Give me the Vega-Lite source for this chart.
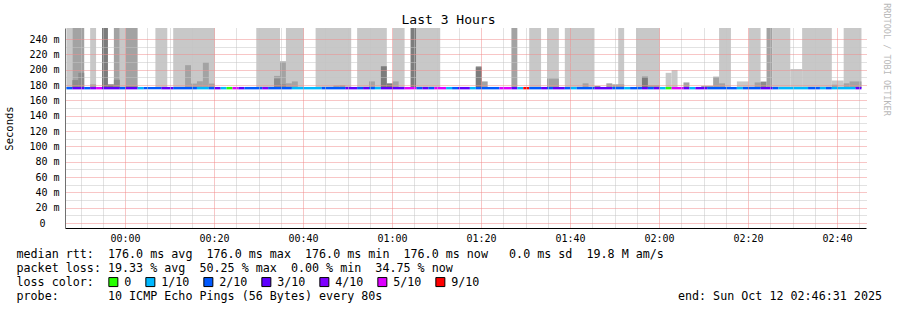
{
  "$schema": "https://vega.github.io/schema/vega-lite/v6.json",
  "width": 801,
  "height": 200,
  "autosize": {"type": "none"},
  "padding": {"left": 65, "top": 28, "right": 31, "bottom": 82},
  "background": "white",
  "config": {"view": {"stroke": null}, "font": "DejaVu Sans Mono"},
  "datasets": {
    "smoke": [
      {"start": "2025-10-11T23:46:50", "end": "2025-10-11T23:48:10", "low": 176, "high": 260, "shade": "light"},
      {"start": "2025-10-11T23:48:10", "end": "2025-10-11T23:50:50", "low": 176, "high": 260, "shade": "mid"},
      {"start": "2025-10-11T23:52:10", "end": "2025-10-11T23:53:30", "low": 176, "high": 260, "shade": "light"},
      {"start": "2025-10-11T23:54:50", "end": "2025-10-11T23:56:10", "low": 176, "high": 260, "shade": "darkest"},
      {"start": "2025-10-11T23:57:30", "end": "2025-10-11T23:58:50", "low": 176, "high": 260, "shade": "mid"},
      {"start": "2025-10-11T23:58:50", "end": "2025-10-12T00:00:10", "low": 176, "high": 260, "shade": "light"},
      {"start": "2025-10-12T00:00:10", "end": "2025-10-12T00:02:50", "low": 176, "high": 260, "shade": "mid"},
      {"start": "2025-10-12T00:06:50", "end": "2025-10-12T00:09:30", "low": 176, "high": 260, "shade": "light"},
      {"start": "2025-10-12T00:10:50", "end": "2025-10-12T00:20:10", "low": 176, "high": 260, "shade": "light"},
      {"start": "2025-10-12T00:29:30", "end": "2025-10-12T00:34:50", "low": 176, "high": 260, "shade": "light"},
      {"start": "2025-10-12T00:36:10", "end": "2025-10-12T00:40:10", "low": 176, "high": 260, "shade": "light"},
      {"start": "2025-10-12T00:42:50", "end": "2025-10-12T00:50:50", "low": 176, "high": 260, "shade": "light"},
      {"start": "2025-10-12T00:52:10", "end": "2025-10-12T00:58:50", "low": 176, "high": 260, "shade": "light"},
      {"start": "2025-10-12T01:00:10", "end": "2025-10-12T01:02:50", "low": 176, "high": 260, "shade": "light"},
      {"start": "2025-10-12T01:04:10", "end": "2025-10-12T01:05:30", "low": 176, "high": 260, "shade": "darkest"},
      {"start": "2025-10-12T01:05:30", "end": "2025-10-12T01:10:50", "low": 176, "high": 260, "shade": "light"},
      {"start": "2025-10-12T01:26:50", "end": "2025-10-12T01:28:10", "low": 176, "high": 260, "shade": "mid"},
      {"start": "2025-10-12T01:30:50", "end": "2025-10-12T01:33:30", "low": 176, "high": 260, "shade": "light"},
      {"start": "2025-10-12T01:34:50", "end": "2025-10-12T01:37:30", "low": 176, "high": 260, "shade": "light"},
      {"start": "2025-10-12T01:38:50", "end": "2025-10-12T01:45:30", "low": 176, "high": 260, "shade": "light"},
      {"start": "2025-10-12T01:50:50", "end": "2025-10-12T01:52:10", "low": 176, "high": 260, "shade": "light"},
      {"start": "2025-10-12T01:54:50", "end": "2025-10-12T02:00:10", "low": 176, "high": 260, "shade": "light"},
      {"start": "2025-10-12T02:13:30", "end": "2025-10-12T02:16:10", "low": 176, "high": 260, "shade": "light"},
      {"start": "2025-10-12T02:20:10", "end": "2025-10-12T02:22:50", "low": 176, "high": 260, "shade": "light"},
      {"start": "2025-10-12T02:24:10", "end": "2025-10-12T02:25:30", "low": 176, "high": 260, "shade": "mid"},
      {"start": "2025-10-12T02:25:30", "end": "2025-10-12T02:29:30", "low": 176, "high": 260, "shade": "light"},
      {"start": "2025-10-12T02:32:10", "end": "2025-10-12T02:38:50", "low": 176, "high": 260, "shade": "light"},
      {"start": "2025-10-12T02:41:30", "end": "2025-10-12T02:45:30", "low": 176, "high": 260, "shade": "light"},
      {"start": "2025-10-11T23:48:10", "end": "2025-10-11T23:49:30", "low": 176, "high": 186.5, "shade": "dark"},
      {"start": "2025-10-11T23:49:30", "end": "2025-10-11T23:50:50", "low": 176, "high": 196, "shade": "dark"},
      {"start": "2025-10-11T23:52:10", "end": "2025-10-11T23:53:30", "low": 176, "high": 181, "shade": "mid"},
      {"start": "2025-10-11T23:56:10", "end": "2025-10-11T23:57:30", "low": 176, "high": 181, "shade": "darkest"},
      {"start": "2025-10-11T23:57:30", "end": "2025-10-11T23:58:50", "low": 176, "high": 187, "shade": "dark"},
      {"start": "2025-10-12T00:00:10", "end": "2025-10-12T00:02:50", "low": 176, "high": 178.5, "shade": "dark"},
      {"start": "2025-10-12T00:13:30", "end": "2025-10-12T00:14:50", "low": 176, "high": 206, "shade": "mid"},
      {"start": "2025-10-12T00:14:50", "end": "2025-10-12T00:16:10", "low": 176, "high": 182, "shade": "mid"},
      {"start": "2025-10-12T00:16:10", "end": "2025-10-12T00:17:30", "low": 176, "high": 185, "shade": "mid"},
      {"start": "2025-10-12T00:17:30", "end": "2025-10-12T00:18:50", "low": 176, "high": 209.5, "shade": "mid"},
      {"start": "2025-10-12T00:18:50", "end": "2025-10-12T00:20:10", "low": 176, "high": 182, "shade": "mid"},
      {"start": "2025-10-12T00:33:30", "end": "2025-10-12T00:34:50", "low": 176, "high": 192, "shade": "mid"},
      {"start": "2025-10-12T00:33:30", "end": "2025-10-12T00:34:50", "low": 176, "high": 188.5, "shade": "dark"},
      {"start": "2025-10-12T00:34:50", "end": "2025-10-12T00:36:10", "low": 176, "high": 211, "shade": "mid"},
      {"start": "2025-10-12T00:34:50", "end": "2025-10-12T00:36:10", "low": 176, "high": 181, "shade": "dark"},
      {"start": "2025-10-12T00:36:10", "end": "2025-10-12T00:37:30", "low": 176, "high": 182.3, "shade": "mid"},
      {"start": "2025-10-12T00:37:30", "end": "2025-10-12T00:38:50", "low": 176, "high": 184.8, "shade": "mid"},
      {"start": "2025-10-12T00:46:50", "end": "2025-10-12T00:48:10", "low": 176, "high": 179.5, "shade": "mid"},
      {"start": "2025-10-12T00:48:10", "end": "2025-10-12T00:49:30", "low": 176, "high": 180, "shade": "mid"},
      {"start": "2025-10-12T00:54:50", "end": "2025-10-12T00:56:10", "low": 176, "high": 184.8, "shade": "mid"},
      {"start": "2025-10-12T00:57:30", "end": "2025-10-12T00:58:50", "low": 176, "high": 204.6, "shade": "darkest"},
      {"start": "2025-10-12T00:58:50", "end": "2025-10-12T01:00:10", "low": 176, "high": 182.3, "shade": "darkest"},
      {"start": "2025-10-12T01:00:10", "end": "2025-10-12T01:01:30", "low": 176, "high": 184.8, "shade": "mid"},
      {"start": "2025-10-12T01:18:50", "end": "2025-10-12T01:20:10", "low": 176, "high": 204.6, "shade": "mid"},
      {"start": "2025-10-12T01:18:50", "end": "2025-10-12T01:20:10", "low": 176, "high": 203.3, "shade": "darkest"},
      {"start": "2025-10-12T01:20:10", "end": "2025-10-12T01:21:30", "low": 176, "high": 184.8, "shade": "mid"},
      {"start": "2025-10-12T01:34:50", "end": "2025-10-12T01:37:30", "low": 176, "high": 188.5, "shade": "mid"},
      {"start": "2025-10-12T01:42:50", "end": "2025-10-12T01:44:10", "low": 176, "high": 182.3, "shade": "mid"},
      {"start": "2025-10-12T01:45:30", "end": "2025-10-12T01:46:50", "low": 176, "high": 178.6, "shade": "darkest"},
      {"start": "2025-10-12T01:48:10", "end": "2025-10-12T01:49:30", "low": 176, "high": 182.3, "shade": "mid"},
      {"start": "2025-10-12T01:49:30", "end": "2025-10-12T01:52:10", "low": 176, "high": 181, "shade": "mid"},
      {"start": "2025-10-12T01:56:10", "end": "2025-10-12T01:57:30", "low": 176, "high": 191, "shade": "darkest"},
      {"start": "2025-10-12T01:57:30", "end": "2025-10-12T02:00:10", "low": 176, "high": 180, "shade": "mid"},
      {"start": "2025-10-12T02:01:30", "end": "2025-10-12T02:02:50", "low": 176, "high": 196, "shade": "light"},
      {"start": "2025-10-12T02:02:50", "end": "2025-10-12T02:04:10", "low": 176, "high": 199.6, "shade": "light"},
      {"start": "2025-10-12T02:05:30", "end": "2025-10-12T02:06:50", "low": 176, "high": 183.5, "shade": "mid"},
      {"start": "2025-10-12T02:09:30", "end": "2025-10-12T02:12:10", "low": 176, "high": 179, "shade": "mid"},
      {"start": "2025-10-12T02:12:10", "end": "2025-10-12T02:13:30", "low": 176, "high": 191, "shade": "mid"},
      {"start": "2025-10-12T02:13:30", "end": "2025-10-12T02:14:50", "low": 176, "high": 182.3, "shade": "mid"},
      {"start": "2025-10-12T02:17:30", "end": "2025-10-12T02:20:10", "low": 176, "high": 184.8, "shade": "light"},
      {"start": "2025-10-12T02:21:30", "end": "2025-10-12T02:22:50", "low": 176, "high": 183.5, "shade": "mid"},
      {"start": "2025-10-12T02:22:50", "end": "2025-10-12T02:24:10", "low": 176, "high": 184.6, "shade": "dark"},
      {"start": "2025-10-12T02:29:30", "end": "2025-10-12T02:32:10", "low": 176, "high": 201, "shade": "light"},
      {"start": "2025-10-12T02:38:50", "end": "2025-10-12T02:41:30", "low": 176, "high": 186, "shade": "light"},
      {"start": "2025-10-12T02:38:50", "end": "2025-10-12T02:40:10", "low": 176, "high": 180.5, "shade": "mid"},
      {"start": "2025-10-12T02:41:30", "end": "2025-10-12T02:42:50", "low": 176, "high": 182.3, "shade": "mid"},
      {"start": "2025-10-12T02:42:50", "end": "2025-10-12T02:45:30", "low": 176, "high": 184.8, "shade": "mid"}
    ],
    "median": [
      {"start": "2025-10-11T23:46:50", "end": "2025-10-11T23:48:10", "rtt": 176, "loss": "2/10"},
      {"start": "2025-10-11T23:48:10", "end": "2025-10-11T23:50:50", "rtt": 176, "loss": "3/10"},
      {"start": "2025-10-11T23:50:50", "end": "2025-10-11T23:52:10", "rtt": 176, "loss": "2/10"},
      {"start": "2025-10-11T23:52:10", "end": "2025-10-11T23:53:30", "rtt": 176, "loss": "4/10"},
      {"start": "2025-10-11T23:53:30", "end": "2025-10-11T23:54:50", "rtt": 176, "loss": "5/10"},
      {"start": "2025-10-11T23:54:50", "end": "2025-10-11T23:58:50", "rtt": 176, "loss": "3/10"},
      {"start": "2025-10-11T23:58:50", "end": "2025-10-12T00:00:10", "rtt": 176, "loss": "2/10"},
      {"start": "2025-10-12T00:00:10", "end": "2025-10-12T00:02:50", "rtt": 176, "loss": "3/10"},
      {"start": "2025-10-12T00:02:50", "end": "2025-10-12T00:04:10", "rtt": 176, "loss": "1/10"},
      {"start": "2025-10-12T00:04:10", "end": "2025-10-12T00:08:10", "rtt": 176, "loss": "2/10"},
      {"start": "2025-10-12T00:08:10", "end": "2025-10-12T00:10:50", "rtt": 176, "loss": "3/10"},
      {"start": "2025-10-12T00:10:50", "end": "2025-10-12T00:16:10", "rtt": 176, "loss": "2/10"},
      {"start": "2025-10-12T00:16:10", "end": "2025-10-12T00:18:50", "rtt": 176, "loss": "1/10"},
      {"start": "2025-10-12T00:18:50", "end": "2025-10-12T00:20:10", "rtt": 176, "loss": "2/10"},
      {"start": "2025-10-12T00:20:10", "end": "2025-10-12T00:21:30", "rtt": 176, "loss": "3/10"},
      {"start": "2025-10-12T00:21:30", "end": "2025-10-12T00:22:50", "rtt": 176, "loss": "1/10"},
      {"start": "2025-10-12T00:22:50", "end": "2025-10-12T00:24:10", "rtt": 176, "loss": "0"},
      {"start": "2025-10-12T00:24:10", "end": "2025-10-12T00:25:30", "rtt": 176, "loss": "5/10"},
      {"start": "2025-10-12T00:25:30", "end": "2025-10-12T00:26:50", "rtt": 176, "loss": "3/10"},
      {"start": "2025-10-12T00:26:50", "end": "2025-10-12T00:30:50", "rtt": 176, "loss": "2/10"},
      {"start": "2025-10-12T00:30:50", "end": "2025-10-12T00:32:10", "rtt": 176, "loss": "4/10"},
      {"start": "2025-10-12T00:32:10", "end": "2025-10-12T00:37:30", "rtt": 176, "loss": "2/10"},
      {"start": "2025-10-12T00:37:30", "end": "2025-10-12T00:44:10", "rtt": 176, "loss": "1/10"},
      {"start": "2025-10-12T00:44:10", "end": "2025-10-12T00:49:30", "rtt": 176, "loss": "2/10"},
      {"start": "2025-10-12T00:49:30", "end": "2025-10-12T00:52:10", "rtt": 176, "loss": "3/10"},
      {"start": "2025-10-12T00:52:10", "end": "2025-10-12T00:53:30", "rtt": 176, "loss": "2/10"},
      {"start": "2025-10-12T00:53:30", "end": "2025-10-12T00:54:50", "rtt": 176, "loss": "3/10"},
      {"start": "2025-10-12T00:54:50", "end": "2025-10-12T00:56:10", "rtt": 176, "loss": "2/10"},
      {"start": "2025-10-12T00:56:10", "end": "2025-10-12T00:57:30", "rtt": 176, "loss": "1/10"},
      {"start": "2025-10-12T00:57:30", "end": "2025-10-12T01:02:50", "rtt": 176, "loss": "3/10"},
      {"start": "2025-10-12T01:02:50", "end": "2025-10-12T01:05:30", "rtt": 176, "loss": "5/10"},
      {"start": "2025-10-12T01:05:30", "end": "2025-10-12T01:06:50", "rtt": 176, "loss": "2/10"},
      {"start": "2025-10-12T01:06:50", "end": "2025-10-12T01:08:10", "rtt": 176, "loss": "3/10"},
      {"start": "2025-10-12T01:08:10", "end": "2025-10-12T01:09:30", "rtt": 176, "loss": "2/10"},
      {"start": "2025-10-12T01:09:30", "end": "2025-10-12T01:12:10", "rtt": 176, "loss": "5/10"},
      {"start": "2025-10-12T01:12:10", "end": "2025-10-12T01:13:30", "rtt": 176, "loss": "1/10"},
      {"start": "2025-10-12T01:13:30", "end": "2025-10-12T01:14:50", "rtt": 176, "loss": "2/10"},
      {"start": "2025-10-12T01:14:50", "end": "2025-10-12T01:17:30", "rtt": 176, "loss": "3/10"},
      {"start": "2025-10-12T01:17:30", "end": "2025-10-12T01:18:50", "rtt": 176, "loss": "1/10"},
      {"start": "2025-10-12T01:18:50", "end": "2025-10-12T01:24:10", "rtt": 176, "loss": "2/10"},
      {"start": "2025-10-12T01:24:10", "end": "2025-10-12T01:26:50", "rtt": 176, "loss": "5/10"},
      {"start": "2025-10-12T01:26:50", "end": "2025-10-12T01:28:10", "rtt": 176, "loss": "3/10"},
      {"start": "2025-10-12T01:28:10", "end": "2025-10-12T01:29:30", "rtt": 176, "loss": "1/10"},
      {"start": "2025-10-12T01:29:30", "end": "2025-10-12T01:30:50", "rtt": 176, "loss": "9/10"},
      {"start": "2025-10-12T01:30:50", "end": "2025-10-12T01:33:30", "rtt": 176, "loss": "2/10"},
      {"start": "2025-10-12T01:33:30", "end": "2025-10-12T01:34:50", "rtt": 176, "loss": "3/10"},
      {"start": "2025-10-12T01:34:50", "end": "2025-10-12T01:36:10", "rtt": 176, "loss": "2/10"},
      {"start": "2025-10-12T01:36:10", "end": "2025-10-12T01:38:50", "rtt": 176, "loss": "3/10"},
      {"start": "2025-10-12T01:38:50", "end": "2025-10-12T01:40:10", "rtt": 176, "loss": "2/10"},
      {"start": "2025-10-12T01:40:10", "end": "2025-10-12T01:41:30", "rtt": 176, "loss": "1/10"},
      {"start": "2025-10-12T01:41:30", "end": "2025-10-12T01:45:30", "rtt": 176, "loss": "2/10"},
      {"start": "2025-10-12T01:45:30", "end": "2025-10-12T01:49:30", "rtt": 176, "loss": "3/10"},
      {"start": "2025-10-12T01:49:30", "end": "2025-10-12T01:52:10", "rtt": 176, "loss": "2/10"},
      {"start": "2025-10-12T01:52:10", "end": "2025-10-12T01:53:30", "rtt": 176, "loss": "1/10"},
      {"start": "2025-10-12T01:53:30", "end": "2025-10-12T01:56:10", "rtt": 176, "loss": "2/10"},
      {"start": "2025-10-12T01:56:10", "end": "2025-10-12T01:57:30", "rtt": 176, "loss": "3/10"},
      {"start": "2025-10-12T01:57:30", "end": "2025-10-12T01:58:50", "rtt": 176, "loss": "2/10"},
      {"start": "2025-10-12T01:58:50", "end": "2025-10-12T02:00:10", "rtt": 176, "loss": "3/10"},
      {"start": "2025-10-12T02:00:10", "end": "2025-10-12T02:01:30", "rtt": 176, "loss": "1/10"},
      {"start": "2025-10-12T02:01:30", "end": "2025-10-12T02:02:50", "rtt": 176, "loss": "0"},
      {"start": "2025-10-12T02:02:50", "end": "2025-10-12T02:05:30", "rtt": 176, "loss": "5/10"},
      {"start": "2025-10-12T02:05:30", "end": "2025-10-12T02:06:50", "rtt": 176, "loss": "3/10"},
      {"start": "2025-10-12T02:06:50", "end": "2025-10-12T02:08:10", "rtt": 176, "loss": "1/10"},
      {"start": "2025-10-12T02:08:10", "end": "2025-10-12T02:10:50", "rtt": 176, "loss": "3/10"},
      {"start": "2025-10-12T02:10:50", "end": "2025-10-12T02:17:30", "rtt": 176, "loss": "2/10"},
      {"start": "2025-10-12T02:17:30", "end": "2025-10-12T02:18:50", "rtt": 176, "loss": "1/10"},
      {"start": "2025-10-12T02:18:50", "end": "2025-10-12T02:22:50", "rtt": 176, "loss": "2/10"},
      {"start": "2025-10-12T02:22:50", "end": "2025-10-12T02:25:30", "rtt": 176, "loss": "3/10"},
      {"start": "2025-10-12T02:25:30", "end": "2025-10-12T02:26:50", "rtt": 176, "loss": "2/10"},
      {"start": "2025-10-12T02:26:50", "end": "2025-10-12T02:33:30", "rtt": 176, "loss": "1/10"},
      {"start": "2025-10-12T02:33:30", "end": "2025-10-12T02:36:10", "rtt": 176, "loss": "2/10"},
      {"start": "2025-10-12T02:36:10", "end": "2025-10-12T02:37:30", "rtt": 176, "loss": "1/10"},
      {"start": "2025-10-12T02:37:30", "end": "2025-10-12T02:38:50", "rtt": 176, "loss": "2/10"},
      {"start": "2025-10-12T02:38:50", "end": "2025-10-12T02:44:10", "rtt": 176, "loss": "1/10"},
      {"start": "2025-10-12T02:44:10", "end": "2025-10-12T02:45:30", "rtt": 176, "loss": "3/10"}
    ]
  },
  "layer": [
    {
      "data": {"name": "smoke"},
      "mark": {"type": "rect", "clip": true},
      "encoding": {
        "x": {
          "field": "start", "type": "temporal",
          "scale": {"domain": [{"year": 2025, "month": 10, "date": 11, "hours": 23, "minutes": 46, "seconds": 31}, {"year": 2025, "month": 10, "date": 12, "hours": 2, "minutes": 46, "seconds": 31}]},
          "axis": {
            "orient": "bottom",
            "tickCount": 36,
            "labelExpr": "minutes(datum.value) % 20 === 0 ? timeFormat(datum.value, '%H:%M') : ''",
            "labelFont": "DejaVu Sans Mono", "labelFontSize": 10, "labelColor": "#000000",
            "labelPadding": 5, "labelFlush": false, "labelOverlap": false,
            "ticks": false,
            "domainColor": "#000000", "domainWidth": 1,
            "grid": true,
            "gridColor": {"condition": {"test": "minutes(datum.value) % 20 === 0", "value": "#f08c8c"}, "value": "#c4c4c4"},
            "gridDash": [1, 1],
            "zindex": 1,
            "title": [
              "median rtt:\u00a0\u00a0176.0 ms avg\u00a0\u00a0176.0 ms max\u00a0\u00a0176.0 ms min\u00a0\u00a0176.0 ms now\u00a0\u00a0\u00a00.0 ms sd\u00a0\u00a019.8 M am/s",
              "packet loss: 19.33 % avg\u00a0\u00a050.25 % max\u00a0\u00a00.00 % min\u00a0\u00a034.75 % now",
              "loss color:",
              "probe:\u00a0\u00a0\u00a0\u00a0\u00a0\u00a0\u00a010 ICMP Echo Pings (56 Bytes) every 80s\u00a0\u00a0\u00a0\u00a0\u00a0\u00a0\u00a0\u00a0\u00a0\u00a0\u00a0\u00a0\u00a0\u00a0\u00a0\u00a0\u00a0\u00a0\u00a0\u00a0\u00a0\u00a0\u00a0\u00a0\u00a0\u00a0\u00a0\u00a0\u00a0\u00a0\u00a0\u00a0\u00a0\u00a0\u00a0\u00a0\u00a0\u00a0\u00a0\u00a0\u00a0\u00a0end: Sun Oct 12 02:46:31 2025"
            ],
            "titleFont": "DejaVu Sans Mono", "titleFontSize": 11.7, "titleFontWeight": "normal", "titleColor": "#000000",
            "titleAnchor": "start", "titleAlign": "left", "titleBaseline": "top",
            "titleX": -49, "titleY": 20, "titleLineHeight": 14
          }
        },
        "x2": {"field": "end"},
        "y": {
          "field": "low", "type": "quantitative",
          "scale": {"domain": [0, 248], "nice": false, "zero": false},
          "axis": {
            "orient": "left",
            "values": [0, 10, 20, 30, 40, 50, 60, 70, 80, 90, 100, 110, 120, 130, 140, 150, 160, 170, 180, 190, 200, 210, 220, 230, 240],
            "labelExpr": "datum.value % 20 !== 0 ? '' : (datum.value === 0 ? '0\u2800\u2800' : datum.value + '\u00a0m')",
            "labelFont": "DejaVu Sans Mono", "labelFontSize": 10, "labelColor": "#000000",
            "labelPadding": 6, "labelOverlap": false, "labelFlush": false,
            "ticks": false,
            "domainColor": "#707070",
            "grid": true,
            "gridColor": {"condition": {"test": "datum.value % 20 === 0", "value": "#f08c8c"}, "value": "#c4c4c4"},
            "gridDash": [1, 1],
            "zindex": 1,
            "title": "Seconds",
            "titleFont": "DejaVu Sans Mono", "titleFontSize": 10.5, "titleFontWeight": "normal", "titleColor": "#000000",
            "titlePadding": 14
          }
        },
        "y2": {"field": "high"},
        "fill": {
          "field": "shade", "type": "nominal",
          "scale": {"domain": ["light", "mid", "dark", "darkest"], "range": ["#c8c8c8", "#a3a3a3", "#8c8c8c", "#7c7c7c"]},
          "legend": null
        }
      }
    },
    {
      "data": {"name": "median"},
      "mark": {"type": "bar", "orient": "horizontal", "height": 2.4, "clip": true},
      "encoding": {
        "x": {
          "field": "start", "type": "temporal",
          "axis": {
            "orient": "top", "labels": false, "ticks": false, "domain": false, "grid": false,
            "title": "Last 3 Hours",
            "titleFont": "DejaVu Sans Mono", "titleFontSize": 13, "titleFontWeight": "normal", "titleColor": "#000000",
            "titleX": 383, "titleY": -5, "titleAlign": "center", "titleAnchor": null, "titleBaseline": "alphabetic", "titleAngle": 0
          }
        },
        "x2": {"field": "end"},
        "y": {
          "field": "rtt", "type": "quantitative",
          "axis": {
            "orient": "right", "labels": false, "ticks": false, "domain": false, "grid": false,
            "title": "RRDTOOL / TOBI OETIKER",
            "titleFont": "DejaVu Sans Mono", "titleFontSize": 8.5, "titleFontWeight": "normal", "titleColor": "#b8b8b8",
            "titleAngle": 90, "titleX": 20, "titleY": 31, "titleAlign": "center", "titleBaseline": "middle"
          }
        },
        "color": {
          "field": "loss", "type": "nominal",
          "scale": {"domain": ["0", "1/10", "2/10", "3/10", "4/10", "5/10", "9/10"], "range": ["#26ff00", "#00b8ff", "#0059ff", "#5e00ff", "#7e00ff", "#dd00ff", "#ff0000"]},
          "legend": {
            "orient": "none", "legendX": 42.5, "legendY": 248,
            "direction": "horizontal", "columns": 7,
            "title": null,
            "symbolType": "square", "symbolSize": 81, "symbolStrokeColor": "#000000", "symbolStrokeWidth": 1, "symbolOpacity": 1,
            "labelFont": "DejaVu Sans Mono", "labelFontSize": 11.7, "labelColor": "#000000", "labelOffset": 5,
            "columnPadding": 12, "padding": 0
          }
        }
      }
    }
  ],
  "resolve": {"axis": {"x": "independent", "y": "independent"}}
}
